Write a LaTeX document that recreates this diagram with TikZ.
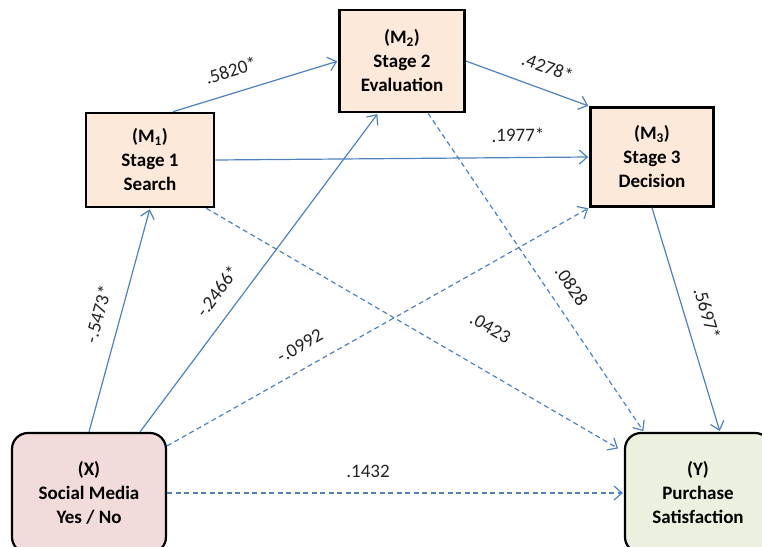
\documentclass[tikz,border=0pt]{standalone}
\usepackage{fontspec}
\setmainfont{Carlito}
\usetikzlibrary{arrows.meta,calc}
\definecolor{linkblue}{RGB}{79,129,189}
\definecolor{stagefill}{RGB}{253,233,217}
\definecolor{xfill}{RGB}{242,220,219}
\definecolor{yfill}{RGB}{235,241,222}
\definecolor{coefgray}{RGB}{35,35,35}

\begin{document}
\begin{tikzpicture}[x=1pt,y=-1pt,
  boxfont/.style={font=\bfseries\fontsize{19}{24}\selectfont},
  stagebox/.style={boxfont,draw=black,line width=2.6pt,fill=stagefill,align=center,inner sep=0pt},
  varbox/.style={boxfont,draw=black,line width=2.2pt,rounded corners=16pt,align=center,inner sep=0pt,minimum height=120pt},
  link/.style={linkblue,line width=1.2pt,shorten >=1pt,-{Straight Barb[length=8pt,width=14pt]}},
  dlink/.style={link,dash pattern=on 5pt off 3.5pt},
  coef/.style={sloped,above=14pt,inner sep=1pt,text=coefgray,font=\fontsize{19}{22}\selectfont}]
\useasboundingbox (0,0) rectangle (762,546);
\clip (0,0) rectangle (762,546);
% mediators
\node[stagebox,minimum width=128pt,minimum height=94pt] (m1) at (150,160) {(M\textsubscript{1})\\Stage 1\\Search};
\node[stagebox,minimum width=125pt,minimum height=102pt] (m2) at (402,61) {(M\textsubscript{2})\\Stage 2\\Evaluation};
\node[stagebox,minimum width=123pt,minimum height=99pt] (m3) at (652,157) {(M\textsubscript{3})\\Stage 3\\Decision};
% predictor and outcome
\node[varbox,fill=xfill,minimum width=154pt] (x) at (89,493) {(X)\\Social Media\\Yes / No};
\node[varbox,fill=yfill,minimum width=146pt] (y) at (698,493) {(Y)\\Purchase\\Satisfaction};
% paths between stages
\draw[link] ($(m1.north)+(23,0)$) -- node[coef,pos=.39] {.5820*} (m2.west);
\draw[link] (m2.east) -- node[coef,pos=.6] {.4278*} (m3.north west);
\draw[link] (m1.east) -- node[coef,pos=.81] {.1977*} (m3.west);
% paths from X
\draw[link] (x.north) -- node[coef,pos=.5] {-.5473*} (m1.south);
\draw[link] ($(x.north)+(51,0)$) -- node[coef,pos=.4] {-.2466*} ($(m2.south)+(-24,0)$);
\draw[dlink] ($(x.north east)+(0,14)$) -- node[coef,pos=.34] {-.0992} (m3.south west);
\draw[dlink] (x.east) -- node[coef,pos=.44] {.1432} (y.west);
% paths to Y
\draw[dlink] ($(m1.south east)+(-9,0)$) -- node[coef,pos=.64,above=18pt] {.0423} ($(y.north west)+(-5,17)$);
\draw[dlink] ($(m2.south)+(26,0)$) -- node[coef,pos=.58] {.0828} ($(y.north west)+(20,0)$);
\draw[link] (m3.south) -- node[coef,pos=.5] {.5697*} ($(y.north)+(22,0)$);
\end{tikzpicture}
\end{document}
